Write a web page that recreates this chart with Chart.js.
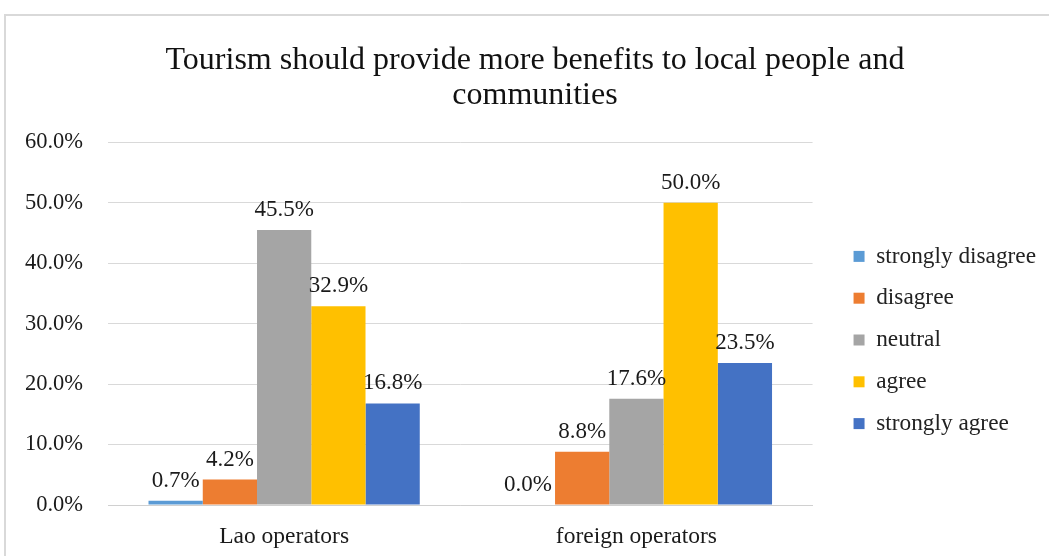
<!DOCTYPE html>
<html>
<head>
<meta charset="utf-8">
<script src="https://cdn.jsdelivr.net/npm/chart.js@4.4.1/dist/chart.umd.min.js"></script>
<style>
  html, body { margin: 0; padding: 0; background: #fff; }
  #frame { position: absolute; left: 4px; top: 14px; width: 1100px; height: 600px; border: 2px solid #d9d9d9; box-sizing: border-box; }
  #wrap { position: absolute; left: 0; top: 0; width: 1049px; height: 556px; }
</style>
</head>
<body>
<div id="frame"></div>
<div id="wrap"><canvas id="chart"></canvas></div>
<script>
const categories = ['Lao operators', 'foreign operators'];
const seriesNames = ['strongly disagree', 'disagree', 'neutral', 'agree', 'strongly agree'];
const seriesColors = ['#5B9BD5', '#ED7D31', '#A5A5A5', '#FFC000', '#4472C4'];
const stronglyDisagree = [0.7, 0.0];
const disagree = [4.2, 8.8];
const neutral = [45.5, 17.6];
const agree = [32.9, 50.0];
const stronglyAgree = [16.8, 23.5];
const yTicks = [0, 10, 20, 30, 40, 50, 60];

const serif = "'Liberation Serif', 'Times New Roman', serif";
const values = [stronglyDisagree, disagree, neutral, agree, stronglyAgree];

// value labels above every bar
const barLabels = {
  id: 'barLabels',
  afterDatasetsDraw(chart) {
    const ctx = chart.ctx;
    ctx.save();
    ctx.font = '23px ' + serif;
    ctx.fillStyle = '#1a1a1a';
    ctx.textAlign = 'center';
    ctx.textBaseline = 'alphabetic';
    chart.data.datasets.forEach((ds, i) => {
      chart.getDatasetMeta(i).data.forEach((bar, j) => {
        ctx.fillText(ds.data[j].toFixed(1) + '%', bar.x, bar.y - 14);
      });
    });
    ctx.restore();
  }
};

new Chart(document.getElementById('chart'), {
  type: 'bar',
  data: {
    labels: categories,
    datasets: seriesNames.map((name, i) => ({
      label: name,
      data: values[i],
      backgroundColor: seriesColors[i],
      borderWidth: 0,
      barPercentage: 1,
      categoryPercentage: 0.77
    }))
  },
  options: {
    responsive: true,
    maintainAspectRatio: false,
    animation: false,
    layout: { padding: { left: 24, right: 3, top: 0, bottom: 7 } },
    plugins: {
      title: {
        display: true,
        text: ['Tourism should provide more benefits to local people and', 'communities'],
        font: { family: serif, size: 32, weight: 'normal', lineHeight: 1.1 },
        color: '#111',
        padding: { top: 43, bottom: 29 }
      },
      legend: {
        position: 'right',
        maxWidth: 300,
        title: { display: true, text: '', font: { size: 10 }, padding: 59.5 },
        labels: {
          boxWidth: 11,
          boxHeight: 11,
          padding: 18.5,
          color: '#222',
          font: { family: serif, size: 23.3 }
        }
      },
      tooltip: { enabled: false }
    },
    scales: {
      x: {
        grid: { display: false, drawTicks: false },
        border: { display: true, color: '#d0d0d0', width: 1 },
        ticks: { color: '#1a1a1a', font: { family: serif, size: 23.5 }, padding: 18 },
        afterFit(axis) { axis.height = 44; }
      },
      y: {
        min: 0,
        max: 60,
        afterBuildTicks(axis) { axis.ticks = yTicks.map(v => ({ value: v })); },
        grid: { color: '#d9d9d9', drawTicks: false },
        border: { display: false },
        ticks: {
          color: '#1a1a1a',
          font: { family: serif, size: 22.5 },
          padding: 25,
          callback: v => v.toFixed(1) + '%'
        },
        afterFit(axis) { axis.width = 84; }
      },
      // empty spacer between the plot and the legend
      gap: {
        type: 'linear',
        position: 'right',
        display: true,
        grid: { display: false },
        border: { display: false },
        ticks: { display: false },
        afterFit(axis) { axis.width = 22.5; }
      }
    }
  },
  plugins: [barLabels]
});
</script>
</body>
</html>
